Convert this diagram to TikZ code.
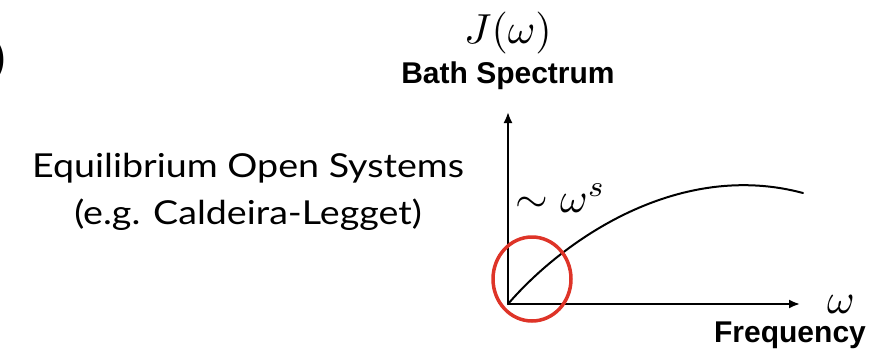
\documentclass[tikz,border=0pt]{standalone}
\usepackage{fontspec}
\setmainfont{Lato}
\newfontfamily\sidefont{Lato}[FakeStretch=1.14]
\newfontfamily\headfont{Liberation Sans}
\usetikzlibrary{arrows.meta,shapes.geometric}
\definecolor{circred}{RGB}{222,52,40}

\begin{document}
\begin{tikzpicture}[x=1pt,y=-1pt,line cap=round,line join=round,
  every node/.style={inner sep=0pt},
  axis/.style={line width=2pt,-{Latex[length=11pt,width=9pt]}},
  headlabel/.style={font=\headfont\bfseries\fontsize{30}{30}\selectfont},
  sidelabel/.style={font=\sidefont\fontsize{33}{38}\selectfont},
  mathlabel/.style={scale=4.2}]
  \useasboundingbox (0,0) rectangle (891,362);
  % 左上角残字
  \node[anchor=east,font=\headfont\bfseries\fontsize{40}{40}\selectfont] (tag) at (6,60) {)};
  % 左侧说明
  \node[sidelabel,anchor=base] (eqline) at (248,177) {Equilibrium Open Systems};
  \node[sidelabel,anchor=base] (egline) at (248,224) {(e.g. Caldeira-Legget)};
  % 坐标轴
  \coordinate (O) at (508,304);
  \coordinate (ytop) at (508,112);
  \coordinate (xend) at (800,304);
  \draw[axis] (O) -- (ytop);
  \draw[axis] (O) -- (xend);
  \node[mathlabel] (Jw) at (508,33) {$J(\omega)$};
  \node[headlabel,anchor=base] (bath) at (508,83) {Bath Spectrum};
  \node[mathlabel] (wx) at (841,304) {$\omega$};
  \node[headlabel,anchor=base] (freq) at (790,342) {Frequency};
  % 谱线
  \coordinate (cend) at (803,193);
  \draw[line width=2pt] (O) .. controls (565,238) and (680,160) .. (cend);
  \node[mathlabel,anchor=base west] (lowlaw) at (515,212) {$\sim\omega^s$};
  % 低频圈
  \node[ellipse,draw=circred,line width=3.5pt,minimum width=78pt,minimum height=84pt] (lowring) at (532,279) {};
\end{tikzpicture}
\end{document}
